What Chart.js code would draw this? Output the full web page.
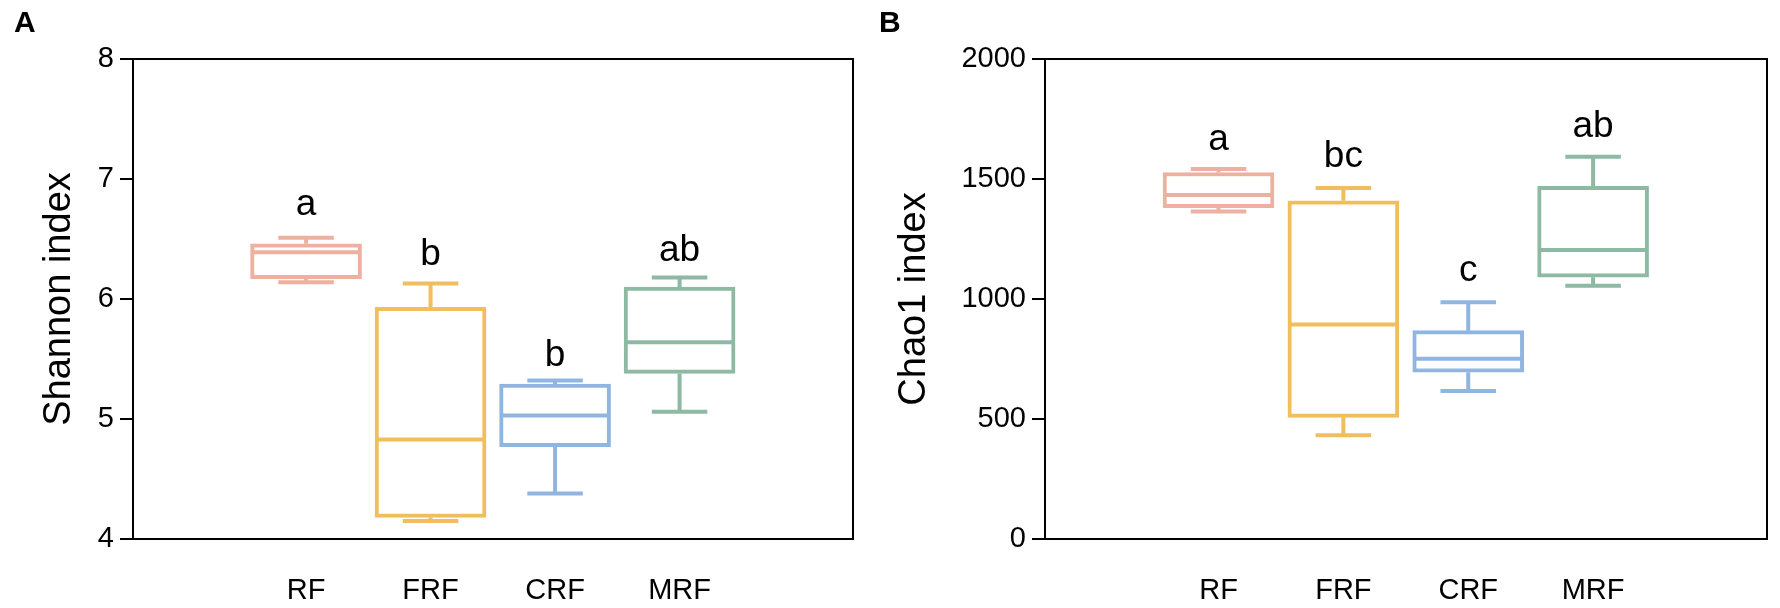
<!DOCTYPE html>
<html>
<head>
<meta charset="utf-8">
<script src="https://cdn.jsdelivr.net/npm/chart.js@4/dist/chart.umd.min.js"></script>
<style>
  body { margin: 0; background: #fff; }
  canvas { position: absolute; top: 0; }
</style>
</head>
<body>
<canvas id="shannonChart" width="880" height="608" style="left:0"></canvas>
<canvas id="chaoChart" width="900" height="608" style="left:880px"></canvas>
<script>
const groups = ['RF', 'FRF', 'CRF', 'MRF'];
const groupColors = ['#eeb1a1', '#f0be5c', '#90b5e0', '#8eb9a3'];

// panel A - Shannon index (min, q1, median, q3, max)
const shannonMin = [6.14, 4.15, 4.38, 5.06];
const shannonQ1 = [6.17, 4.18, 4.77, 5.38];
const shannonMedian = [6.39, 4.83, 5.03, 5.64];
const shannonQ3 = [6.46, 5.93, 5.29, 6.10];
const shannonMax = [6.51, 6.13, 5.32, 6.18];
const shannonLetters = ['a', 'b', 'b', 'ab'];
const shannonLetterPos = [6.70, 6.28, 5.44, 6.32];
const shannonTicks = [4, 5, 6, 7, 8];

// panel B - Chao1 index
const chaoMin = [1365, 432, 617, 1055];
const chaoQ1 = [1381, 507, 695, 1091];
const chaoMedian = [1433, 894, 751, 1204];
const chaoQ3 = [1527, 1409, 868, 1469];
const chaoMax = [1542, 1462, 986, 1593];
const chaoLetters = ['a', 'bc', 'c', 'ab'];
const chaoLetterPos = [1620, 1548, 1075, 1677];
const chaoTicks = [0, 500, 1000, 1500, 2000];

Chart.defaults.font.family = "'Liberation Sans', Arial, sans-serif";
Chart.defaults.color = '#000';

// whiskers, medians, letters and the frame, all placed through the scales
const boxPlugin = {
    id: 'boxParts',
    beforeDatasetsDraw(chart) {
        const {ctx} = chart;
        const s = chart.config.options.boxStats;
        const x = chart.scales.x, y = chart.scales.y;
        ctx.save();
        ctx.lineWidth = 4;
        groups.forEach((g, i) => {
            const cx = x.getPixelForValue(i);
            const half = chart.getDatasetMeta(0).data[i].width / 4;
            ctx.strokeStyle = groupColors[i];
            ctx.beginPath();
            ctx.moveTo(cx, y.getPixelForValue(s.q3[i]));
            ctx.lineTo(cx, y.getPixelForValue(s.max[i]));
            ctx.moveTo(cx - half, y.getPixelForValue(s.max[i]));
            ctx.lineTo(cx + half, y.getPixelForValue(s.max[i]));
            ctx.moveTo(cx, y.getPixelForValue(s.q1[i]));
            ctx.lineTo(cx, y.getPixelForValue(s.min[i]));
            ctx.moveTo(cx - half, y.getPixelForValue(s.min[i]));
            ctx.lineTo(cx + half, y.getPixelForValue(s.min[i]));
            ctx.stroke();
        });
        ctx.restore();
    },
    afterDatasetsDraw(chart) {
        const {ctx, chartArea} = chart;
        const s = chart.config.options.boxStats;
        const x = chart.scales.x, y = chart.scales.y;
        ctx.save();
        ctx.lineWidth = 4;
        groups.forEach((g, i) => {
            const cx = x.getPixelForValue(i);
            const w = chart.getDatasetMeta(0).data[i].width;
            const my = y.getPixelForValue(s.median[i]);
            ctx.strokeStyle = groupColors[i];
            ctx.beginPath();
            ctx.moveTo(cx - w / 2 + 2, my);
            ctx.lineTo(cx + w / 2 - 2, my);
            ctx.stroke();
        });
        // letters above boxes
        ctx.fillStyle = '#000';
        ctx.font = "37px 'Liberation Sans', Arial, sans-serif";
        ctx.textAlign = 'center';
        ctx.textBaseline = 'alphabetic';
        s.letters.forEach((t, i) => {
            ctx.fillText(t, x.getPixelForValue(i), y.getPixelForValue(s.letterPos[i]));
        });
        // top and right sides of the frame
        ctx.strokeStyle = '#000';
        ctx.lineWidth = 2;
        ctx.beginPath();
        ctx.moveTo(chartArea.left, chartArea.top);
        ctx.lineTo(chartArea.right, chartArea.top);
        ctx.lineTo(chartArea.right, chartArea.bottom);
        ctx.stroke();
        // panel letter
        ctx.font = "bold 30px 'Liberation Sans', Arial, sans-serif";
        ctx.textAlign = 'left';
        ctx.fillText(s.panel, s.panelX, 32);
        ctx.restore();
    }
};

function makeBoxChart(el, stats, yOpts) {
    return new Chart(el, {
        type: 'bar',
        data: {
            datasets: [{
                data: groups.map((g, i) => ({x: i, y: [stats.q1[i], stats.q3[i]]})),
                backgroundColor: '#fff',
                borderColor: groupColors,
                borderWidth: 4,
                borderSkipped: false,
                barThickness: 111
            }]
        },
        options: {
            responsive: false,
            animation: false,
            boxStats: stats,
            layout: { padding: { top: 59, right: yOpts.right, left: 0, bottom: 0 } },
            plugins: { legend: { display: false }, tooltip: { enabled: false } },
            scales: {
                x: {
                    type: 'linear',
                    min: -0.667,
                    max: 3.67,
                    afterBuildTicks: axis => { axis.ticks = groups.map((g, i) => ({value: i})); },
                    afterFit: axis => { axis.height = 69; },
                    grid: { display: false },
                    border: { display: true, color: '#000', width: 2 },
                    ticks: {
                        padding: 27,
                        font: { size: 29 },
                        callback: v => groups[v]
                    }
                },
                y: {
                    min: yOpts.ticks[0],
                    max: yOpts.ticks[yOpts.ticks.length - 1],
                    afterBuildTicks: axis => { axis.ticks = yOpts.ticks.map(v => ({value: v})); },
                    afterFit: axis => { axis.width = yOpts.width; },
                    grid: { drawOnChartArea: false, drawTicks: true, tickLength: 13, color: '#000', lineWidth: 2 },
                    border: { display: true, color: '#000', width: 2 },
                    ticks: { padding: 6, font: { size: 29 }, callback: v => String(v) },
                    title: {
                        display: true,
                        text: yOpts.title,
                        font: { size: 38 },
                        padding: { top: yOpts.titlePad, bottom: 0 }
                    }
                }
            }
        },
        plugins: [boxPlugin]
    });
}

makeBoxChart(document.getElementById('shannonChart'), {
    min: shannonMin, q1: shannonQ1, median: shannonMedian, q3: shannonQ3, max: shannonMax,
    letters: shannonLetters, letterPos: shannonLetterPos, panel: 'A', panelX: 14
}, { ticks: shannonTicks, title: 'Shannon index', width: 133, right: 27, titlePad: 37 });

makeBoxChart(document.getElementById('chaoChart'), {
    min: chaoMin, q1: chaoQ1, median: chaoMedian, q3: chaoQ3, max: chaoMax,
    letters: chaoLetters, letterPos: chaoLetterPos, panel: 'B', panelX: -1
}, { ticks: chaoTicks, title: 'Chao1 index', width: 165, right: 13, titlePad: 12 });
</script>
</body>
</html>
